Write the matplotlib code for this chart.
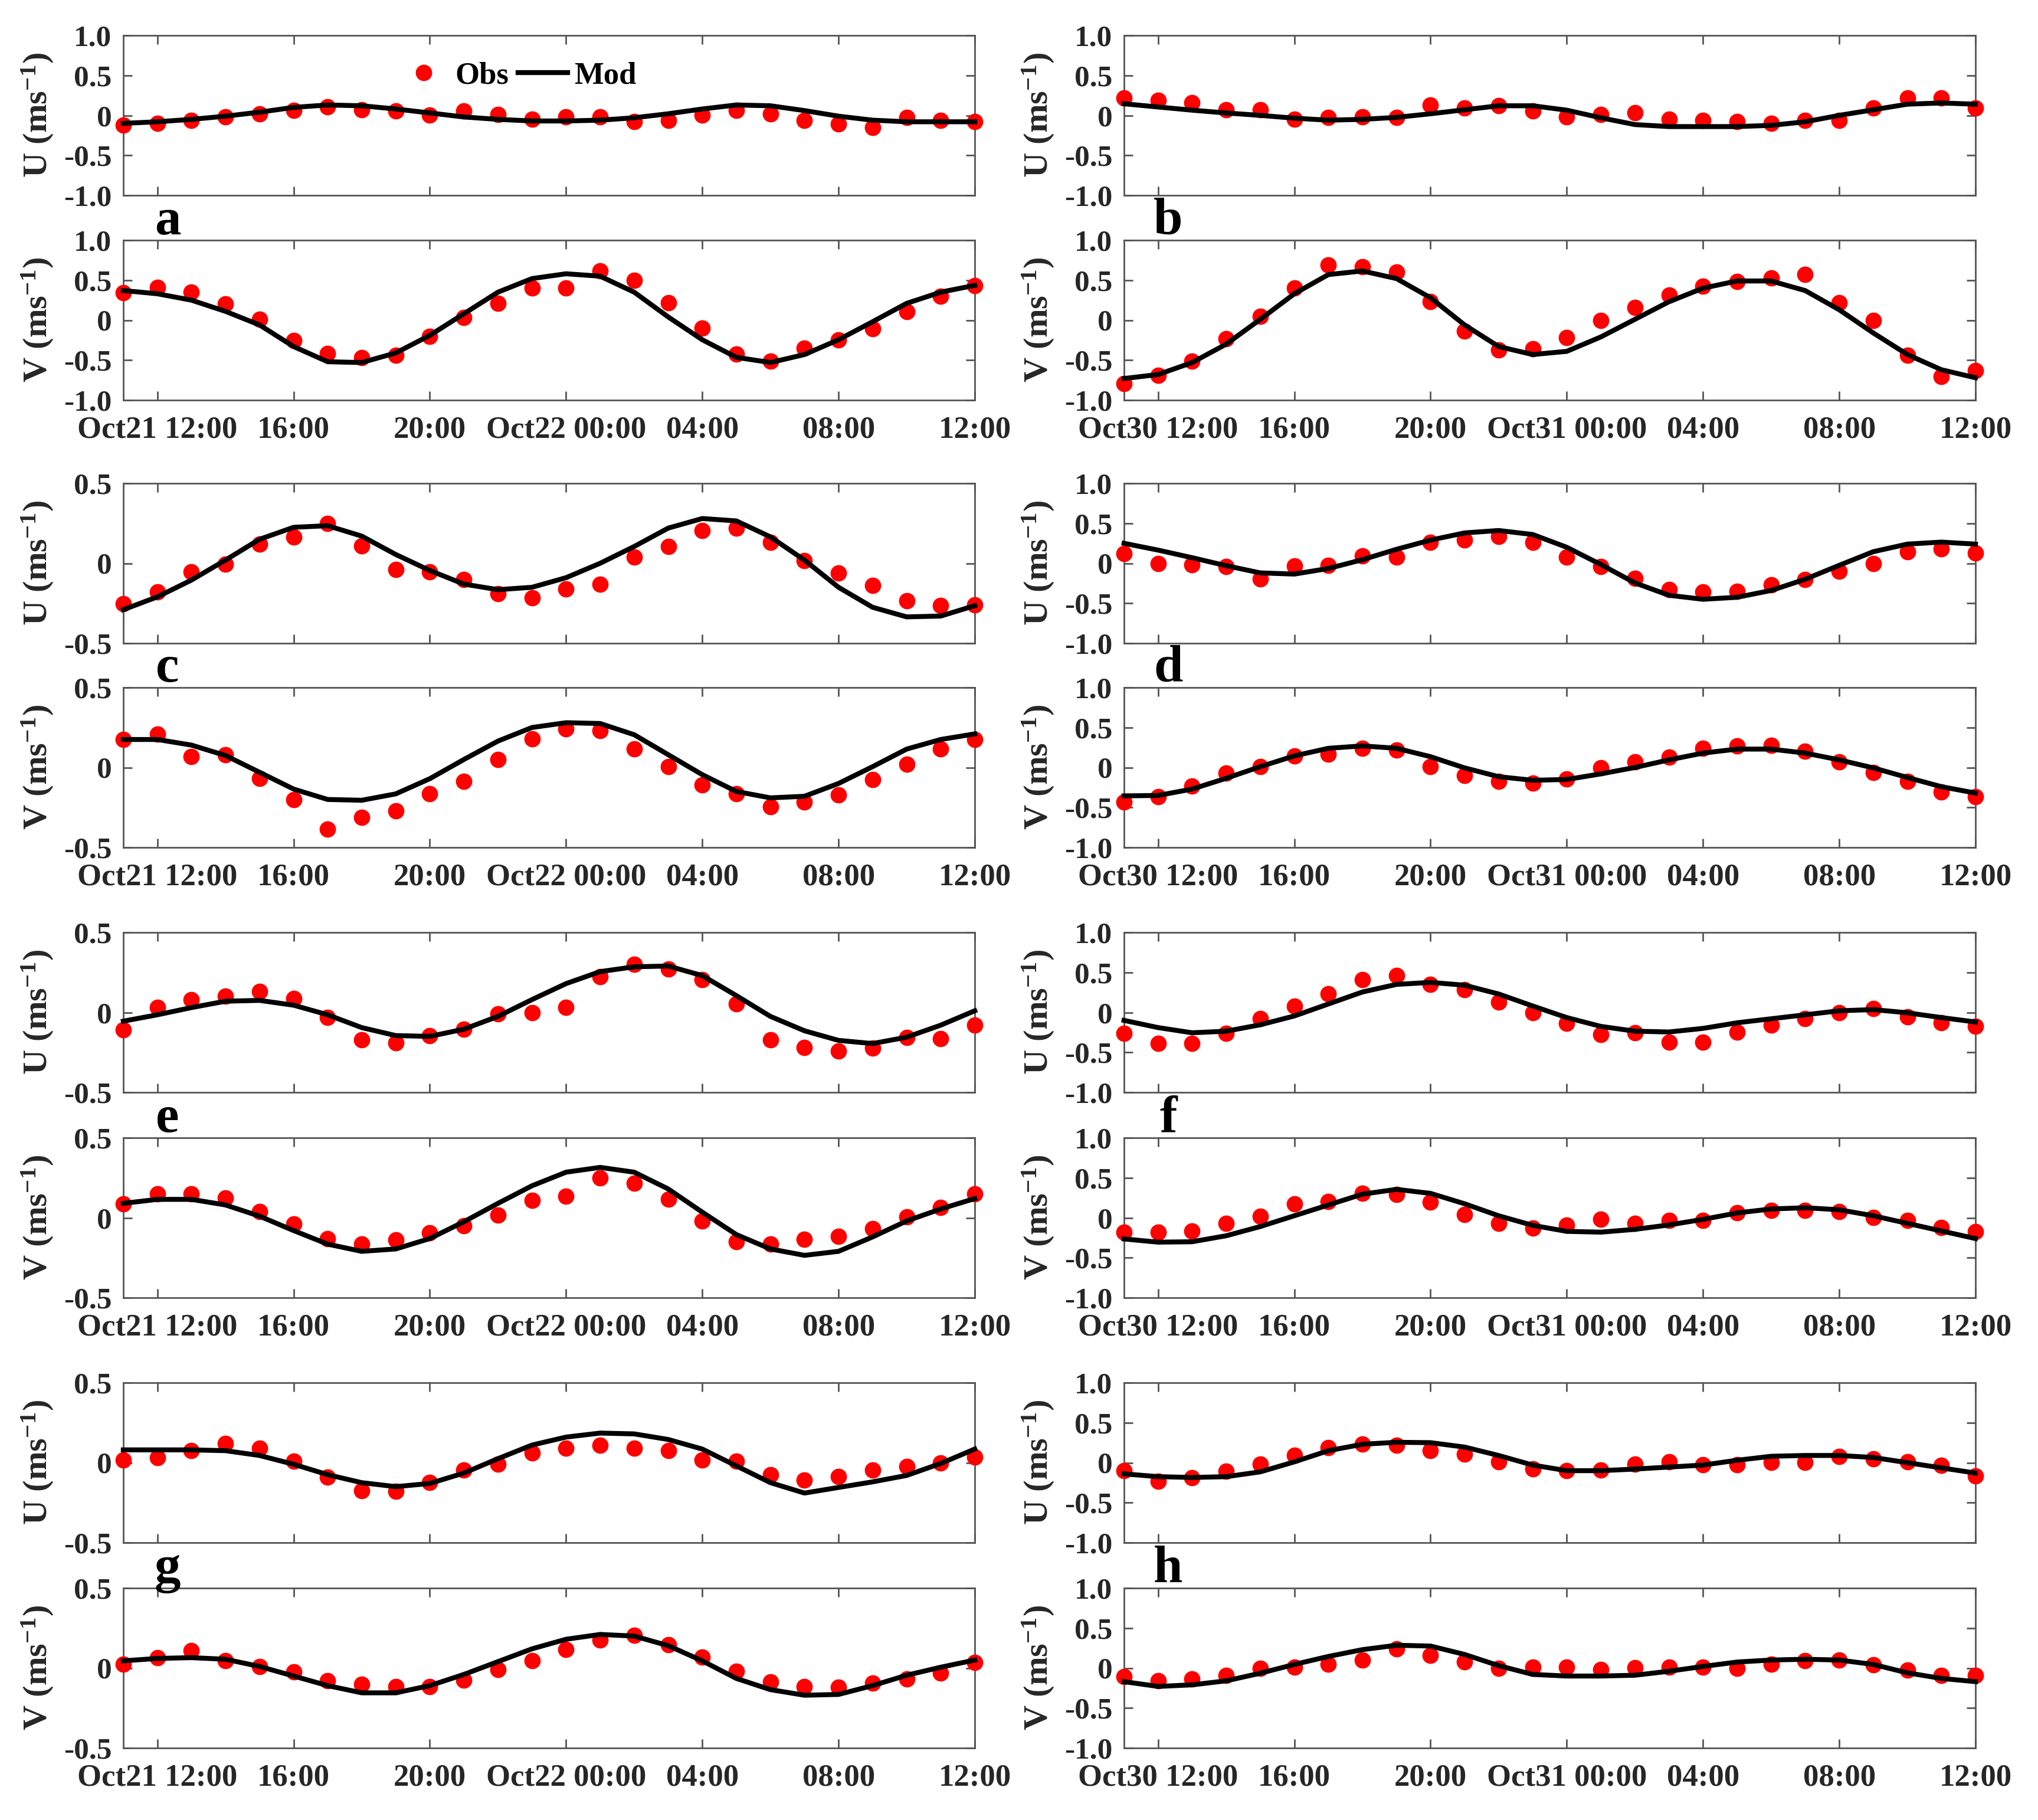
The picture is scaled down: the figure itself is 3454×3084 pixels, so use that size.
import numpy as np
import matplotlib
matplotlib.use("Agg")
import matplotlib.pyplot as plt
from matplotlib.lines import Line2D

plt.rcParams["font.family"] = ["Liberation Serif", "DejaVu Serif"]
plt.rcParams["font.weight"] = "bold"
plt.rcParams["axes.labelweight"] = "bold"
plt.rcParams["mathtext.fontset"] = "custom"
plt.rcParams["mathtext.rm"] = "Liberation Serif:bold"
plt.rcParams["mathtext.bf"] = "Liberation Serif:bold"
plt.rcParams["mathtext.it"] = "Liberation Serif:bold:italic"
plt.rcParams["axes.unicode_minus"] = False

# hourly samples, 11:00 day 1 -> 12:00 day 2
hours = np.arange(26)
tick_hours = [1, 5, 9, 13, 17, 21, 25]
left_xlabels = ["Oct21 12:00", "16:00", "20:00", "Oct22 00:00", "04:00", "08:00", "12:00"]
right_xlabels = ["Oct30 12:00", "16:00", "20:00", "Oct31 00:00", "04:00", "08:00", "12:00"]

# ---- data (m/s) ----
a_u_obs = [-0.125, -0.10, -0.065, -0.015, 0.02, 0.065, 0.105, 0.07, 0.055, 0.005, 0.055, 0.01, -0.045,
           -0.015, -0.015, -0.08, -0.06, 0.005, 0.065, 0.02, -0.06, -0.105, -0.15, -0.025, -0.06, -0.08]
a_u_mod = [-0.10, -0.08, -0.05, -0.01, 0.04, 0.10, 0.13, 0.12, 0.08, 0.03, -0.02, -0.05, -0.07,
           -0.07, -0.06, -0.03, 0.02, 0.08, 0.13, 0.12, 0.06, -0.01, -0.06, -0.08, -0.08, -0.08]
a_v_obs = [0.34, 0.41, 0.35, 0.20, 0.01, -0.255, -0.415, -0.465, -0.44, -0.20, 0.03, 0.21, 0.40,
           0.40, 0.615, 0.50, 0.22, -0.10, -0.425, -0.51, -0.35, -0.245, -0.11, 0.11, 0.30, 0.435]
a_v_mod = [0.37, 0.33, 0.25, 0.11, -0.06, -0.33, -0.52, -0.53, -0.41, -0.19, 0.08, 0.35, 0.52,
           0.58, 0.55, 0.35, 0.04, -0.245, -0.465, -0.53, -0.43, -0.245, -0.02, 0.21, 0.35, 0.435]

b_u_obs = [0.22, 0.19, 0.155, 0.07, 0.07, -0.05, -0.025, -0.015, -0.025, 0.13, 0.09, 0.12, 0.055,
           -0.015, 0.01, 0.03, -0.05, -0.06, -0.08, -0.10, -0.065, -0.06, 0.09, 0.215, 0.22, 0.095]
b_u_mod = [0.145, 0.105, 0.065, 0.03, 0.0, -0.035, -0.06, -0.05, -0.025, 0.02, 0.07, 0.12, 0.12,
           0.065, -0.03, -0.115, -0.14, -0.14, -0.14, -0.125, -0.08, 0.0, 0.07, 0.14, 0.155, 0.14]
b_v_obs = [-0.79, -0.69, -0.51, -0.23, 0.05, 0.40, 0.69, 0.67, 0.605, 0.23, -0.14, -0.37, -0.36,
           -0.22, 0.0, 0.155, 0.315, 0.425, 0.485, 0.525, 0.57, 0.215, 0.0, -0.44, -0.705, -0.63]
b_v_mod = [-0.73, -0.68, -0.53, -0.30, 0.01, 0.33, 0.57, 0.615, 0.52, 0.28, -0.06, -0.33, -0.43,
           -0.39, -0.21, 0.01, 0.23, 0.40, 0.49, 0.49, 0.37, 0.13, -0.16, -0.43, -0.62, -0.72]

c_u_obs = [-0.254, -0.18, -0.055, -0.005, 0.12, 0.165, 0.25, 0.11, -0.04, -0.055, -0.10, -0.19, -0.215,
           -0.16, -0.13, 0.04, 0.105, 0.205, 0.22, 0.13, 0.015, -0.06, -0.14, -0.235, -0.265, -0.26]
c_u_mod = [-0.29, -0.21, -0.105, 0.02, 0.15, 0.225, 0.235, 0.17, 0.055, -0.045, -0.13, -0.165, -0.15,
           -0.09, 0.0, 0.105, 0.22, 0.28, 0.265, 0.165, 0.02, -0.15, -0.275, -0.335, -0.33, -0.265]
c_v_obs = [0.175, 0.21, 0.07, 0.08, -0.07, -0.20, -0.385, -0.31, -0.27, -0.165, -0.085, 0.05, 0.18,
           0.24, 0.23, 0.115, 0.005, -0.11, -0.165, -0.245, -0.215, -0.17, -0.075, 0.02, 0.115, 0.175]
c_v_mod = [0.175, 0.175, 0.14, 0.075, -0.03, -0.135, -0.20, -0.205, -0.165, -0.07, 0.05, 0.165, 0.25,
           0.28, 0.275, 0.205, 0.08, -0.045, -0.15, -0.19, -0.18, -0.10, 0.005, 0.115, 0.175, 0.21]

d_u_obs = [0.12, -0.005, -0.015, -0.04, -0.195, -0.03, -0.025, 0.095, 0.08, 0.265, 0.29, 0.335, 0.265,
           0.08, -0.04, -0.19, -0.33, -0.36, -0.35, -0.27, -0.20, -0.10, -0.005, 0.145, 0.18, 0.13]
d_u_mod = [0.25, 0.165, 0.07, -0.03, -0.12, -0.135, -0.065, 0.045, 0.175, 0.29, 0.38, 0.41, 0.36,
           0.20, -0.015, -0.245, -0.40, -0.45, -0.425, -0.34, -0.20, -0.025, 0.145, 0.24, 0.265, 0.24]
d_v_obs = [-0.43, -0.365, -0.23, -0.07, 0.01, 0.145, 0.165, 0.24, 0.215, 0.01, -0.10, -0.17, -0.195,
           -0.145, -0.005, 0.07, 0.13, 0.24, 0.27, 0.28, 0.20, 0.07, -0.06, -0.17, -0.305, -0.365]
d_v_mod = [-0.355, -0.35, -0.27, -0.135, 0.01, 0.145, 0.24, 0.27, 0.24, 0.135, -0.005, -0.115, -0.16,
           -0.15, -0.08, 0.0, 0.095, 0.18, 0.23, 0.23, 0.18, 0.095, -0.005, -0.125, -0.24, -0.32]

e_u_obs = [-0.11, 0.03, 0.08, 0.10, 0.13, 0.085, -0.03, -0.17, -0.19, -0.145, -0.105, -0.01, 0.0,
           0.03, 0.225, 0.30, 0.27, 0.205, 0.055, -0.17, -0.22, -0.24, -0.225, -0.155, -0.165, -0.08]
e_u_mod = [-0.055, -0.015, 0.03, 0.07, 0.075, 0.045, -0.015, -0.095, -0.145, -0.15, -0.105, -0.025, 0.08,
           0.18, 0.255, 0.285, 0.29, 0.23, 0.105, -0.025, -0.115, -0.175, -0.195, -0.155, -0.08, 0.01]
e_v_obs = [0.085, 0.15, 0.15, 0.125, 0.04, -0.04, -0.13, -0.165, -0.14, -0.095, -0.05, 0.015, 0.11,
           0.135, 0.25, 0.215, 0.115, -0.02, -0.15, -0.165, -0.135, -0.115, -0.07, 0.005, 0.065, 0.15]
e_v_mod = [0.09, 0.115, 0.115, 0.08, 0.01, -0.08, -0.165, -0.21, -0.195, -0.13, -0.025, 0.09, 0.20,
           0.285, 0.315, 0.285, 0.18, 0.035, -0.105, -0.195, -0.235, -0.21, -0.12, -0.02, 0.055, 0.12]

f_u_obs = [-0.265, -0.385, -0.385, -0.265, -0.08, 0.08, 0.23, 0.41, 0.46, 0.35, 0.285, 0.13, 0.0,
           -0.14, -0.275, -0.255, -0.37, -0.37, -0.25, -0.155, -0.08, -0.005, 0.045, -0.055, -0.13, -0.175]
f_u_mod = [-0.10, -0.19, -0.255, -0.235, -0.155, -0.045, 0.105, 0.255, 0.35, 0.375, 0.34, 0.23, 0.08,
           -0.065, -0.175, -0.235, -0.245, -0.20, -0.13, -0.08, -0.03, 0.02, 0.035, -0.005, -0.065, -0.12]
f_v_obs = [-0.18, -0.18, -0.165, -0.07, 0.015, 0.17, 0.205, 0.305, 0.295, 0.195, 0.04, -0.07, -0.13,
           -0.09, -0.02, -0.07, -0.035, -0.035, 0.06, 0.09, 0.09, 0.08, 0.005, -0.035, -0.125, -0.17]
f_v_mod = [-0.265, -0.305, -0.30, -0.225, -0.11, 0.025, 0.16, 0.295, 0.355, 0.305, 0.175, 0.025, -0.095,
           -0.17, -0.18, -0.145, -0.09, -0.02, 0.06, 0.11, 0.125, 0.10, 0.025, -0.07, -0.165, -0.26]

g_u_obs = [0.015, 0.03, 0.075, 0.12, 0.09, 0.01, -0.09, -0.175, -0.18, -0.125, -0.045, -0.01, 0.06,
           0.09, 0.11, 0.09, 0.075, 0.015, 0.01, -0.075, -0.11, -0.085, -0.045, -0.025, 0.0, 0.035]
g_u_mod = [0.08, 0.08, 0.08, 0.075, 0.045, -0.01, -0.075, -0.125, -0.15, -0.13, -0.065, 0.025, 0.11,
           0.16, 0.185, 0.18, 0.145, 0.085, -0.02, -0.125, -0.19, -0.155, -0.12, -0.08, -0.005, 0.085]
g_v_obs = [0.025, 0.065, 0.11, 0.045, 0.01, -0.025, -0.08, -0.10, -0.115, -0.115, -0.075, -0.01, 0.045,
           0.115, 0.175, 0.205, 0.145, 0.07, -0.02, -0.085, -0.115, -0.12, -0.095, -0.07, -0.03, 0.035]
g_v_mod = [0.045, 0.06, 0.065, 0.055, 0.01, -0.05, -0.11, -0.155, -0.155, -0.11, -0.04, 0.04, 0.12,
           0.18, 0.21, 0.20, 0.14, 0.045, -0.065, -0.135, -0.17, -0.165, -0.11, -0.045, 0.005, 0.05]

h_u_obs = [-0.10, -0.23, -0.185, -0.11, -0.02, 0.09, 0.185, 0.23, 0.215, 0.15, 0.11, 0.01, -0.08,
           -0.10, -0.095, -0.02, 0.01, -0.025, -0.025, 0.005, 0.005, 0.075, 0.045, 0.01, -0.03, -0.165]
h_u_mod = [-0.14, -0.175, -0.185, -0.175, -0.115, 0.01, 0.15, 0.23, 0.255, 0.25, 0.195, 0.09, -0.03,
           -0.10, -0.10, -0.08, -0.055, -0.03, 0.03, 0.08, 0.09, 0.09, 0.065, 0.0, -0.065, -0.13]
h_v_obs = [-0.11, -0.16, -0.14, -0.09, -0.005, 0.01, 0.045, 0.10, 0.24, 0.16, 0.08, -0.005, 0.01,
           0.01, -0.02, 0.005, 0.01, 0.01, -0.005, 0.045, 0.09, 0.10, 0.04, -0.025, -0.09, -0.095]
h_v_mod = [-0.17, -0.23, -0.21, -0.16, -0.065, 0.045, 0.145, 0.23, 0.285, 0.275, 0.17, 0.03, -0.08,
           -0.10, -0.10, -0.09, -0.04, 0.02, 0.075, 0.10, 0.11, 0.10, 0.045, -0.06, -0.13, -0.17]

# panel letter, column, row, y limit, (u obs, u mod, v obs, v mod)
panels = [
    ("a", 0, 0, 1.0, a_u_obs, a_u_mod, a_v_obs, a_v_mod),
    ("b", 1, 0, 1.0, b_u_obs, b_u_mod, b_v_obs, b_v_mod),
    ("c", 0, 1, 0.5, c_u_obs, c_u_mod, c_v_obs, c_v_mod),
    ("d", 1, 1, 1.0, d_u_obs, d_u_mod, d_v_obs, d_v_mod),
    ("e", 0, 2, 0.5, e_u_obs, e_u_mod, e_v_obs, e_v_mod),
    ("f", 1, 2, 1.0, f_u_obs, f_u_mod, f_v_obs, f_v_mod),
    ("g", 0, 3, 0.5, g_u_obs, g_u_mod, g_v_obs, g_v_mod),
    ("h", 1, 3, 1.0, h_u_obs, h_u_mod, h_v_obs, h_v_mod),
]

# layout in pixels of the 3455x3084 canvas
W, H = 3455, 3084
col_left = [209, 1905]
ax_w = 1443
ax_h = 271
u_top = [60, 819, 1580, 2343]
v_top = [407, 1165, 1928, 2691]

spine_col = "#555555"
text_col = "#262626"


def ytick_setup(ax, lim):
    if lim == 1.0:
        ticks = [-1.0, -0.5, 0, 0.5, 1.0]
        labels = ["-1.0", "-0.5", "0", "0.5", "1.0"]
    else:
        ticks = [-0.5, 0, 0.5]
        labels = ["-0.5", "0", "0.5"]
    ax.set_yticks(ticks)
    ax.set_yticklabels(labels)


def style_axis(ax, lim, comp, xlabels):
    ax.set_xlim(0, 25)
    ax.set_ylim(-lim, lim)
    ax.set_xticks(tick_hours)
    if xlabels is None:
        ax.set_xticklabels([])
    else:
        ax.set_xticklabels(xlabels)
    ytick_setup(ax, lim)
    ax.tick_params(direction="in", length=11, width=2, top=True, right=True,
                   colors=spine_col, labelcolor=text_col)
    ax.tick_params(axis="x", pad=19, labelsize=38)
    ax.tick_params(axis="y", pad=14, labelsize=37)
    for s in ax.spines.values():
        s.set_color(spine_col)
        s.set_linewidth(2)
    ax.set_ylabel(comp + r" (ms$^{-1}$)", fontsize=42, fontweight="bold", color=text_col)
    ax.yaxis.set_label_coords(-0.08, 0.5)


fig = plt.figure(figsize=(W / 100, H / 100), dpi=100)

for letter, col, row, lim, u_obs, u_mod, v_obs, v_mod in panels:
    x0 = col_left[col] / W
    xlabels = left_xlabels if col == 0 else right_xlabels
    for comp, top, obs, mod in (("U", u_top[row], u_obs, u_mod), ("V", v_top[row], v_obs, v_mod)):
        ax = fig.add_axes([x0, 1 - (top + ax_h) / H, ax_w / W, ax_h / H])
        ax.plot(hours, obs, "o", color="red", ms=20, mew=0, clip_on=False, zorder=3)
        ax.plot(hours, mod, "-", color="black", lw=6, clip_on=False, zorder=4)
        style_axis(ax, lim, comp, xlabels if comp == "V" else None)
        if letter == "a" and comp == "U":
            handles = [Line2D([], [], marker="o", ls="none", color="red", ms=20, mew=0),
                       Line2D([], [], color="black", lw=6)]
            ax.legend(handles, ["Obs", "Mod"], ncol=2, frameon=False, loc="center",
                      bbox_to_anchor=(0.463, 0.746), fontsize=38, handlelength=1.6,
                      handletextpad=0.2, columnspacing=0.3, borderpad=0, borderaxespad=0)
    # panel letter just under the U panel
    fig.text((col_left[col] + 75) / W, 1 - (v_top[row] - 10) / H, letter,
             fontsize=64, fontweight="bold", ha="center", va="baseline", color="black")

fig.savefig("out.png", dpi=100)
